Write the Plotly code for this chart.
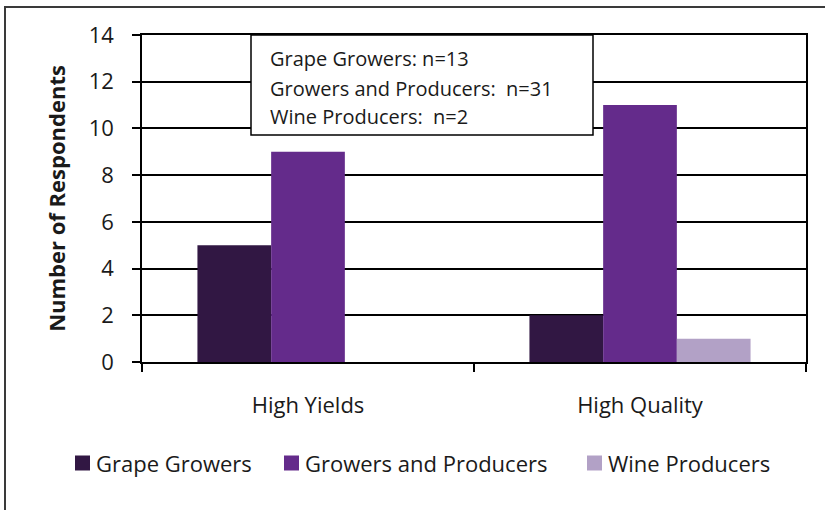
import plotly.graph_objects as go

# Survey responses by group
categories = ["High Yields", "High Quality"]
grape_growers = [5, 2]
growers_and_producers = [9, 11]
wine_producers = [0, 1]

series_names = ["Grape Growers", "Growers and Producers", "Wine Producers"]
series_colors = ["#311743", "#642B8B", "#B2A1C6"]
sample_sizes = ["Grape Growers: n=13", "Growers and Producers:  n=31", "Wine Producers:  n=2"]
y_ticks = [0, 2, 4, 6, 8, 10, 12, 14]

FONT = "Open Sans"
TEXT = "#1a1a1a"
W, H = 825, 510
L, R, T, B = 142, 19, 35, 148
pw, ph = W - L - R, H - T - B


def px_x(p):
    return (p - L) / pw


def px_y(p):
    return (H - B - p) / ph


fig = go.Figure()
for name, vals, col in zip(series_names,
                           [grape_growers, growers_and_producers, wine_producers],
                           series_colors):
    fig.add_trace(go.Bar(x=categories, y=vals, name=name, marker_color=col,
                         marker_line_width=0, showlegend=False))

fig.update_layout(
    width=W, height=H,
    margin=dict(l=L, r=R, t=T, b=B, autoexpand=False),
    paper_bgcolor="white", plot_bgcolor="white",
    barmode="group", bargap=0.334, bargroupgap=0,
    font=dict(family=FONT, size=22, color=TEXT),
)

fig.update_yaxes(range=[0, 14], tickvals=y_ticks, showgrid=True,
                 gridcolor="black", gridwidth=1.5, showline=True, linecolor="black",
                 linewidth=1.5, mirror=True, ticks="outside", ticklen=8,
                 tickcolor="black", tickwidth=1.5, zeroline=False,
                 tickfont=dict(size=22), ticklabelstandoff=14,
                 title=dict(text="<b>Number of Respondents</b>", standoff=17,
                            font=dict(size=22)))
fig.update_xaxes(showline=True, linecolor="black", linewidth=1.5, mirror=True,
                 ticks="outside", tickson="boundaries", ticklen=8,
                 tickcolor="black", tickwidth=1.5, tickfont=dict(size=22),
                 ticklabelstandoff=23)

# Outer chart border (left and top visible)
fig.add_shape(type="rect", xref="paper", yref="paper",
              x0=px_x(5), x1=px_x(835), y0=px_y(520), y1=px_y(7),
              line=dict(color="#3a3a3a", width=2), fillcolor="rgba(0,0,0,0)",
              layer="below")

# Sample size text box
fig.add_shape(type="rect", xref="paper", yref="paper",
              x0=px_x(251), x1=px_x(593), y0=px_y(135), y1=px_y(35),
              line=dict(color="black", width=1.5), fillcolor="white", layer="above")
for txt, yp in zip(sample_sizes, [58, 88, 117]):
    fig.add_annotation(text=txt, xref="paper", yref="paper", x=px_x(268), y=px_y(yp),
                       xanchor="left", yanchor="middle", showarrow=False,
                       font=dict(size=20, family=FONT, color=TEXT))

# Legend row beneath the axis: swatch + label per series
legend_y = 463
swatch = 15
legend_x = [75, 284, 587]
for name, col, lx in zip(series_names, series_colors, legend_x):
    fig.add_shape(type="rect", xref="paper", yref="paper",
                  x0=px_x(lx), x1=px_x(lx + swatch),
                  y0=px_y(legend_y + swatch / 2), y1=px_y(legend_y - swatch / 2),
                  line=dict(width=0), fillcolor=col, layer="above")
    fig.add_annotation(text=name, xref="paper", yref="paper", x=px_x(lx + swatch + 4),
                       y=px_y(legend_y), xanchor="left", yanchor="middle",
                       showarrow=False, font=dict(size=22, family=FONT, color=TEXT))

fig.write_html("out.html")
